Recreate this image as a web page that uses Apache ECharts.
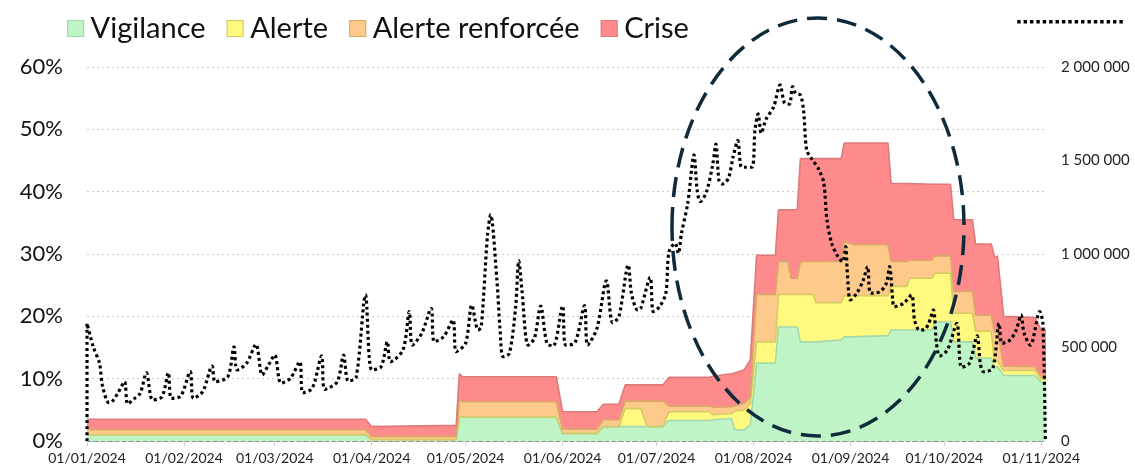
<!DOCTYPE html>
<html>
<head>
<meta charset="utf-8">
<script src="https://cdn.jsdelivr.net/npm/echarts@6/dist/echarts.min.js"></script>
<style>
html,body{margin:0;padding:0;background:#fff;}
#chart{width:1135px;height:467px;}
</style>
</head>
<body>
<div id="chart"></div>
<script>
// ---- Data ----
const seriesNames = ['Vigilance', 'Alerte', 'Alerte renforcée', 'Crise'];
const areaDates = ['2024-01-01','2024-03-30','2024-04-01','2024-04-28','2024-04-29','2024-04-30','2024-05-30','2024-06-01','2024-06-12','2024-06-14','2024-06-19','2024-06-21','2024-06-26','2024-06-28','2024-07-03','2024-07-05','2024-07-18','2024-07-19','2024-07-25','2024-07-26','2024-07-29','2024-07-31','2024-08-02','2024-08-08','2024-08-09','2024-08-12','2024-08-13','2024-08-15','2024-08-16','2024-08-20','2024-08-21','2024-08-29','2024-08-30','2024-09-02','2024-09-13','2024-09-14','2024-09-19','2024-09-20','2024-09-27','2024-09-28','2024-10-03','2024-10-04','2024-10-10','2024-10-11','2024-10-16','2024-10-17','2024-10-18','2024-10-20','2024-10-30','2024-11-01','2024-11-02 12:00'];
const vigilance = [1.0,1.0,0.2,0.2,3.8,3.8,3.8,1.2,1.2,2.3,2.3,2.3,2.3,2.3,2.3,3.3,3.3,3.4,3.6,1.8,1.8,2.5,12.5,12.5,18.3,18.3,18.3,18.3,15.9,15.9,15.9,16.2,16.7,16.7,16.9,17.8,17.8,17.8,17.8,19.1,19.1,15.9,15.9,13.3,13.3,11.9,11.9,10.5,10.5,9.4,9.4];
const alerte = [0.0,0.0,0.0,0.0,0.0,0.0,0.0,0.0,0.0,0.0,0.0,2.9,2.9,0.0,0.0,1.4,1.4,0.8,0.8,3.0,3.2,3.5,3.4,3.4,5.2,5.2,5.2,5.2,7.6,7.6,6.3,6.0,6.6,6.6,6.4,7.0,7.0,8.3,8.3,7.8,7.8,4.6,4.6,4.3,4.3,0.9,0.9,0.8,0.8,0.5,0.5];
const alerteRenforcee = [0.8,0.8,0.5,0.5,2.8,2.5,2.5,0.7,0.7,1.1,1.1,1.2,1.2,4.1,4.1,0.9,0.9,1.2,1.1,0.8,1.0,1.0,7.6,7.6,5.3,5.3,2.6,2.6,5.3,5.3,6.6,6.6,8.7,8.2,8.2,4.0,4.0,2.9,2.9,2.8,2.8,3.5,3.5,2.6,2.6,4.7,4.7,0.7,0.6,0.5,0.5];
const crise = [1.7,1.7,1.6,1.8,4.2,4.0,4.0,2.8,2.8,2.5,2.5,2.6,2.6,2.6,2.6,4.6,4.6,5.0,5.3,5.3,5.4,6.0,6.3,6.3,8.3,8.3,11.0,11.0,16.5,16.5,16.5,16.5,15.8,16.3,16.3,12.5,12.5,12.3,12.2,11.5,11.5,11.5,11.5,11.4,11.4,12.1,12.1,8.0,7.9,7.4,7.4];

const lineDates = ['2024-01-01','2024-01-01','2024-01-03','2024-01-05','2024-01-06','2024-01-08','2024-01-09','2024-01-11','2024-01-13','2024-01-14','2024-01-16','2024-01-18','2024-01-20','2024-01-22','2024-01-25','2024-01-27','2024-01-28','2024-01-31','2024-02-03','2024-02-04','2024-02-07','2024-02-10','2024-02-11','2024-02-15','2024-02-17','2024-02-18','2024-02-21','2024-02-24','2024-02-26','2024-02-28','2024-03-01','2024-03-03','2024-03-06','2024-03-09','2024-03-10','2024-03-13','2024-03-16','2024-03-17','2024-03-21','2024-03-23','2024-03-24 12:00','2024-03-27','2024-03-30','2024-04-01','2024-04-04','2024-04-06','2024-04-07','2024-04-11','2024-04-13','2024-04-14','2024-04-17','2024-04-20','2024-04-21','2024-04-24','2024-04-27','2024-04-28','2024-05-01','2024-05-03','2024-05-05','2024-05-06','2024-05-08','2024-05-09','2024-05-11','2024-05-12','2024-05-13','2024-05-15','2024-05-17','2024-05-18','2024-05-19','2024-05-21','2024-05-23','2024-05-25','2024-05-27','2024-05-29','2024-06-01','2024-06-02','2024-06-05','2024-06-08','2024-06-09','2024-06-12','2024-06-15','2024-06-17','2024-06-19','2024-06-22','2024-06-23','2024-06-25','2024-06-26','2024-06-29','2024-06-30','2024-07-02','2024-07-04','2024-07-05','2024-07-07','2024-07-08','2024-07-09','2024-07-11','2024-07-13','2024-07-14','2024-07-15','2024-07-17','2024-07-19','2024-07-20','2024-07-21','2024-07-22','2024-07-24','2024-07-25 12:00','2024-07-27','2024-07-28','2024-07-29','2024-07-31 12:00','2024-08-01 12:00','2024-08-02 12:00','2024-08-03 12:00','2024-08-05','2024-08-07 12:00','2024-08-09 12:00','2024-08-11','2024-08-12 12:00','2024-08-13 12:00','2024-08-14 12:00','2024-08-16','2024-08-17','2024-08-18','2024-08-19 12:00','2024-08-22','2024-08-23 12:00','2024-08-24 12:00','2024-08-26','2024-08-28','2024-08-29 12:00','2024-08-30 12:00','2024-08-31','2024-09-01','2024-09-03','2024-09-05','2024-09-06 12:00','2024-09-07 12:00','2024-09-10 12:00','2024-09-12 12:00','2024-09-13 12:00','2024-09-14 12:00','2024-09-15','2024-09-18','2024-09-20 12:00','2024-09-21 12:00','2024-09-23','2024-09-24 12:00','2024-09-26','2024-09-27 12:00','2024-09-28 12:00','2024-09-29 12:00','2024-10-02','2024-10-05','2024-10-06 12:00','2024-10-09','2024-10-11 12:00','2024-10-12 12:00','2024-10-13 12:00','2024-10-16 12:00','2024-10-18 12:00','2024-10-19 12:00','2024-10-22','2024-10-24','2024-10-25 12:00','2024-10-26 12:00','2024-10-28 12:00','2024-10-31 12:00','2024-11-01 12:00','2024-11-02 07:00'];
const lineValues = [0,629000,504000,415000,290000,205000,210000,260000,317000,198000,225000,255000,365000,219000,237000,365000,228000,241000,371000,228000,264000,401000,317000,344000,504000,380000,415000,517000,353000,406000,460000,309000,335000,424000,258000,282000,455000,276000,317000,460000,320000,340000,781000,380000,397000,531000,424000,487000,692000,513000,576000,710000,531000,558000,647000,478000,522000,727000,594000,610000,1100000,1209000,861000,600000,451000,469000,718000,964000,808000,513000,549000,722000,522000,508000,722000,513000,526000,724000,513000,603000,857000,633000,665000,941000,790000,700000,710000,875000,692000,718000,790000,1012000,1057000,1004000,1111000,1271000,1530000,1342000,1280000,1333000,1480000,1588000,1390000,1374000,1405000,1520000,1606000,1467000,1464000,1464000,1663000,1749000,1646000,1720000,1788000,1904000,1806000,1802000,1895000,1859000,1850000,1770000,1556000,1512000,1449000,1378000,1180000,1057000,986000,959000,1039000,900000,754000,790000,856000,932000,790000,799000,844000,932000,760000,718000,736000,781000,647000,594000,594000,629000,701000,522000,455000,487000,629000,394000,415000,562000,415000,371000,389000,629000,522000,540000,594000,674000,576000,513000,692000,629000,0];

const leftTicks = [0, 10, 20, 30, 40, 50, 60];
const rightTicks = [0, 500000, 1000000, 1500000, 2000000];

// ---- Styles ----
const fills = ['#BFF5C6', '#FFF97F', '#FDCA8B', '#FD8B8B'];
const edges = ['#A5D8AC', '#D6CB62', '#DCA86A', '#DE7A7A'];
const FONT = 'Lato, "Open Sans", sans-serif';

// dotted legend key for the line series (row of small squares)
let dotPath = 'path://';
for (let i = 0; i < 17; i++) dotPath += 'M' + (i * 6.2) + ',0h3.3v3.3h-3.3z';

const areaValues = [vigilance, alerte, alerteRenforcee, crise];
const series = areaValues.map((vals, k) => ({
  name: seriesNames[k],
  type: 'line',
  stack: 'niveaux',
  yAxisIndex: 0,
  symbol: 'none',
  smooth: false,
  lineStyle: { color: edges[k], width: 1.6 },
  itemStyle: { color: fills[k], borderColor: edges[k], borderWidth: 1 },
  areaStyle: { color: fills[k], opacity: 1 },
  data: areaDates.map((d, i) => [d, vals[i]]),
  z: 2
}));
series.push({
  name: 'Volume',
  type: 'line',
  yAxisIndex: 1,
  symbol: 'none',
  smooth: 0.3,
  lineStyle: { color: '#000', width: 3.2, type: [3, 3], cap: 'butt' },
  itemStyle: { color: '#000' },
  data: lineDates.map((d, i) => [d, lineValues[i]]),
  z: 5
});

const fmtSpace = v => String(v).replace(/\B(?=(\d{3})+(?!\d))/g, ' ');

const chart = echarts.init(document.getElementById('chart'), null, { renderer: 'canvas' });
chart.setOption({
  animation: false,
  backgroundColor: '#fff',
  textStyle: { fontFamily: FONT },
  grid: { left: 87, right: 89, top: 67, bottom: 26, containLabel: false },
  legend: [{
    data: seriesNames.map((n, k) => ({ name: n, icon: 'rect', itemStyle: { color: fills[k], borderColor: edges[k], borderWidth: 1.2 } })),
    left: 62, top: 9,
    itemWidth: 16, itemHeight: 16, itemGap: 21,
    textStyle: { fontSize: 29, color: '#111', fontFamily: FONT, padding: [0, 0, 0, 2] }
  }, {
    data: [{ name: 'Volume', icon: dotPath, itemStyle: { color: '#000', borderWidth: 0 } }],
    left: 1012, top: 15,
    itemWidth: 106, itemHeight: 3.4,
    formatter: () => '',
    textStyle: { fontSize: 1 }
  }],
  xAxis: {
    type: 'time',
    min: '2024-01-01',
    max: '2024-11-02 12:00',
    splitNumber: 11,
    minInterval: 28 * 86400000,
    maxInterval: 31 * 86400000,
    axisLine: { show: true, lineStyle: { color: '#8f8f8f', type: [4, 3], width: 1.2 } },
    axisTick: { show: true, length: 5, lineStyle: { color: '#d0d0d0' } },
    splitLine: { show: false },
    axisLabel: {
      formatter: '{dd}/{MM}/{yyyy}',
      fontSize: 14, color: '#222', margin: 10, fontFamily: FONT,
      showMinLabel: true, showMaxLabel: false, hideOverlap: false
    }
  },
  yAxis: [{
    type: 'value', min: leftTicks[0], max: leftTicks[leftTicks.length - 1], interval: 10,
    axisLine: { show: false }, axisTick: { show: false },
    axisLabel: { formatter: '{value}%', fontSize: 22, color: '#111', margin: 24, fontFamily: FONT },
    splitLine: { show: true, lineStyle: { color: '#c9c9c9', type: [2, 3], width: 1.2 } }
  }, {
    type: 'value', min: rightTicks[0], max: rightTicks[rightTicks.length - 1], interval: 500000,
    position: 'right',
    axisLine: { show: false }, axisTick: { show: false },
    axisLabel: { formatter: fmtSpace, fontSize: 15, color: '#222', margin: 15, align: 'left', fontFamily: FONT },
    splitLine: { show: false }
  }],
  series: series,
  graphic: [{
    type: 'ellipse',
    shape: { cx: 818, cy: 227, rx: 146, ry: 209 },
    style: { fill: 'none', stroke: '#0E2A3B', lineWidth: 3.5, lineDash: [20, 10] },
    z: 100
  }]
});
</script>
</body>
</html>
